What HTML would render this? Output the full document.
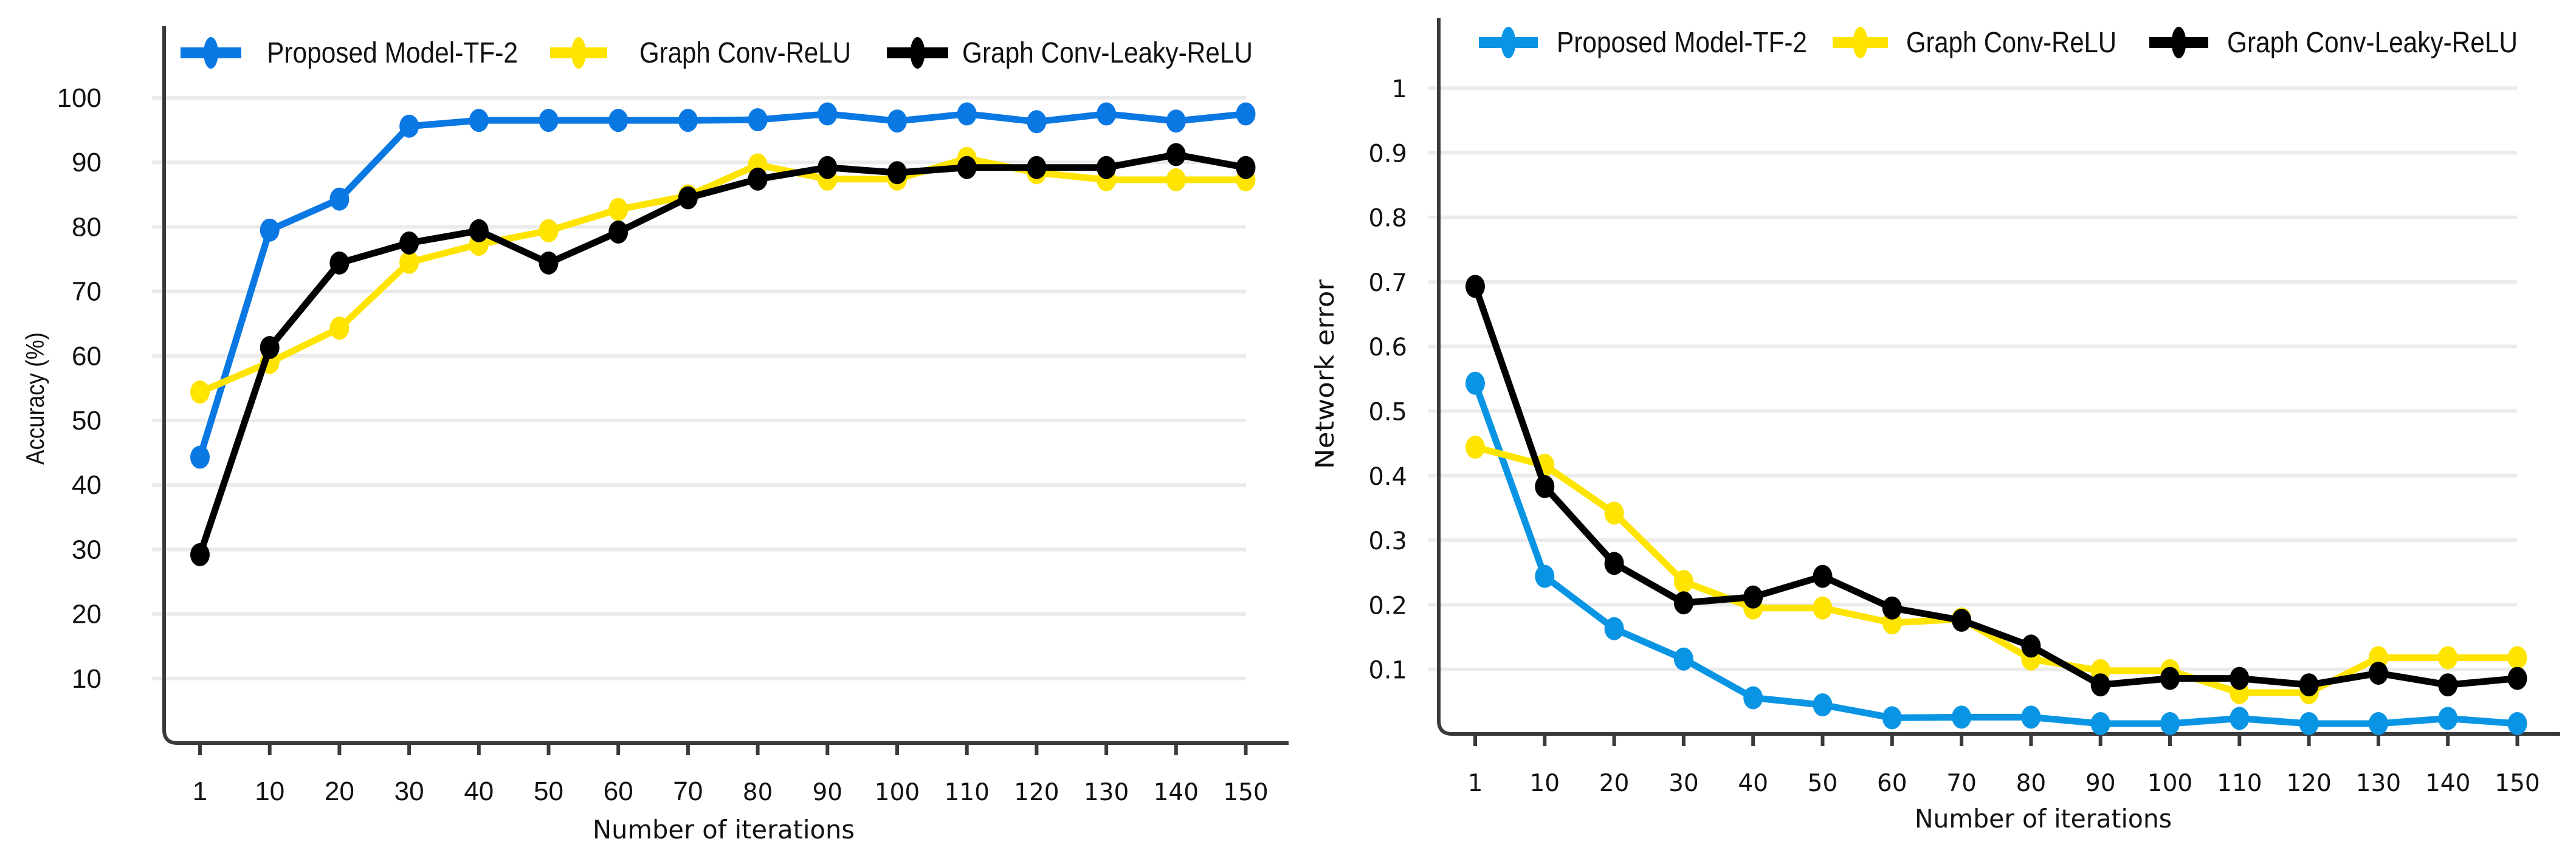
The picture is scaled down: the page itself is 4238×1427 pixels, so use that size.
<!DOCTYPE html>
<html><head><meta charset="utf-8">
<style>
html,body{margin:0;padding:0;background:#fff;}
svg{display:block;}
</style></head>
<body>
<svg id="fig" width="4238" height="1427" viewBox="0 0 4238 1427" xmlns="http://www.w3.org/2000/svg">
  <g id="left"></g>
  <g id="right"></g>
</svg>
<script>
const categories = ["1","10","20","30","40","50","60","70","80","90","100","110","120","130","140","150"];
const accTicks = [10,20,30,40,50,60,70,80,90,100];
const accProposed = [44.3,79.5,84.3,95.6,96.5,96.5,96.5,96.5,96.6,97.5,96.4,97.5,96.3,97.5,96.4,97.5];
const accRelu = [54.4,59,64.3,74.5,77.3,79.4,82.7,84.8,89.6,87.4,87.4,90.6,88.4,87.3,87.3,87.3];
const accLeaky = [29.2,61.3,74.4,77.5,79.4,74.4,79.2,84.5,87.4,89.2,88.4,89.2,89.2,89.2,91.2,89.2];
const errTicks = ["0.1","0.2","0.3","0.4","0.5","0.6","0.7","0.8","0.9","1"];
const errProposed = [0.543,0.244,0.163,0.116,0.056,0.045,0.025,0.026,0.026,0.016,0.016,0.024,0.016,0.016,0.024,0.016];
const errRelu = [0.444,0.416,0.342,0.236,0.195,0.195,0.172,0.178,0.116,0.098,0.098,0.064,0.064,0.118,0.118,0.118];
const errLeaky = [0.693,0.383,0.264,0.203,0.212,0.244,0.195,0.176,0.136,0.076,0.086,0.086,0.076,0.094,0.076,0.086];
const seriesNames = ["Proposed Model-TF-2","Graph Conv-ReLU","Graph Conv-Leaky-ReLU"];

const NS = "http://www.w3.org/2000/svg";
function mk(tag, parent, attrs){
  const e = document.createElementNS(NS, tag);
  for (const k in attrs) e.setAttribute(k, attrs[k]);
  parent.appendChild(e);
  return e;
}

function drawChart(g, cfg){
  const xOf = i => cfg.x0 + i*cfg.step;
  const yOf = v => cfg.yZero - (v - cfg.vMin)/(cfg.vMax - cfg.vMin)*(cfg.yZero - cfg.yTop);
  cfg.ticks.forEach((t)=>{
    const v = parseFloat(t);
    const y = yOf(v);
    const gl = mk("line", g, {x1:cfg.gridStart, x2:cfg.gridEnd, y1:y, y2:y, stroke:"#ebebeb", "stroke-width":6});
    
    
    const tl = mk("text", g, {x:cfg.yLabelX, y:y+15, "text-anchor":"end", "font-family":cfg.yFont, "font-size":cfg.yFontSize, fill:"#111"});
    tl.textContent = t;
    
    
  });
  const ax = mk("path", g, {d:`M${cfg.axisX},${cfg.axisTop} L${cfg.axisX},${cfg.axisY-22} Q${cfg.axisX},${cfg.axisY} ${cfg.axisX+22},${cfg.axisY} L${cfg.axisEnd},${cfg.axisY}`, fill:"none", stroke:"#3a3a3a", "stroke-width":6});
  
  
  categories.forEach((c,i)=>{
    const x = xOf(i);
    const tk = mk("line", g, {x1:x, x2:x, y1:cfg.axisY, y2:cfg.axisY+20, stroke:"#3a3a3a", "stroke-width":6});
    
    
    const narrow = cfg.mixedX && i < 8;
    const font = narrow ? '"Liberation Sans", sans-serif' : '"DejaVu Sans", sans-serif';
    const fs = narrow ? 44 : 39;
    const tl = mk("text", g, {x:x, y:cfg.xLabelY, "text-anchor":"middle", "font-family":font, "font-size":fs, fill:"#111"});
    tl.textContent = c;
    
    
  });
  const xt = mk("text", g, {x:cfg.xTitleX, y:cfg.xTitleY, "font-family":'"DejaVu Sans", sans-serif', "font-size":42, fill:"#111", textLength:cfg.xTitleLen, lengthAdjust:"spacingAndGlyphs"});
  xt.textContent = "Number of iterations";
  
  
  const yt = mk("text", g, {x:0, y:0, "text-anchor":"middle", "font-family":cfg.yTitleFont, "font-size":42, fill:"#111", textLength:cfg.yTitleLen, lengthAdjust:"spacingAndGlyphs", transform:`translate(${cfg.yTitleX},${cfg.yTitleY}) rotate(-90)`});
  yt.textContent = cfg.yTitle;
  
  
  cfg.series.forEach((vals, si)=>{
    const col = cfg.colors[si];
    const sg = mk("g", g, {});
    
    
    const pts = vals.map((v,i)=>xOf(i)+","+yOf(v)).join(" ");
    const pl = mk("polyline", sg, {points:pts, fill:"none", stroke:col, "stroke-width":11, "stroke-linejoin":"round"});
    
    
    vals.forEach((v,i)=>{
      const m = mk("ellipse", sg, {cx:xOf(i), cy:yOf(v), rx:16, ry:19, fill:col});
      
      
    });
  });
  cfg.legend.forEach((L, si)=>{
    const lg = mk("g", g, {});
    
    
    mk("line", lg, {x1:L[0], x2:L[1], y1:cfg.legendY, y2:cfg.legendY, stroke:cfg.colors[si], "stroke-width":18});
    mk("ellipse", lg, {cx:(L[0]+L[1])/2, cy:cfg.legendY, rx:12, ry:26, fill:cfg.colors[si]});
    const t = mk("text", lg, {x:L[2], y:cfg.legendY+16, "font-family":'"Liberation Sans", sans-serif', "font-size":48, fill:"#111", textLength:L[3]-L[2], lengthAdjust:"spacingAndGlyphs"});
    t.textContent = seriesNames[si];
  });
}

drawChart(document.getElementById("left"), {
  x0:329, step:114.7, vMin:0, vMax:100, yZero:1223, yTop:161,
  ticks: accTicks.map(String), gridStart:250, gridEnd:2050,
  yLabelX:167, yFont:'"Liberation Sans", sans-serif', yFontSize:44,
  axisX:270, axisTop:43, axisY:1223, axisEnd:2120,
  xLabelY:1317, mixedX:true,
  xTitleX:975, xTitleY:1380, xTitleLen:431,
  yTitle:"Accuracy (%)", yTitleX:72, yTitleY:656, yTitleLen:218, yTitleFont:'"Liberation Sans", sans-serif',
  series:[accProposed, accRelu, accLeaky],
  colors:["#0a78e2","#ffe400","#000000"],
  legendY:87,
  legend:[[297,397,439,852],[905,999,1052,1400],[1459,1560,1583,2061]]
});
drawChart(document.getElementById("right"), {
  x0:2427, step:114.3, vMin:0, vMax:1, yZero:1208, yTop:145,
  ticks: errTicks, gridStart:2350, gridEnd:4141,
  yLabelX:2315, yFont:'"DejaVu Sans", sans-serif', yFontSize:40,
  axisX:2367, axisTop:30, axisY:1208, axisEnd:4212,
  xLabelY:1302, mixedX:false,
  xTitleX:3150, xTitleY:1362, xTitleLen:423,
  yTitle:"Network error", yTitleX:2194, yTitleY:616, yTitleLen:312, yTitleFont:'"DejaVu Sans", sans-serif',
  series:[errProposed, errRelu, errLeaky],
  colors:["#0a95e4","#ffe400","#000000"],
  legendY:70,
  legend:[[2433,2530,2561,2973],[3015,3106,3136,3482],[3536,3633,3664,4142]]
});
</script>
</body></html>
